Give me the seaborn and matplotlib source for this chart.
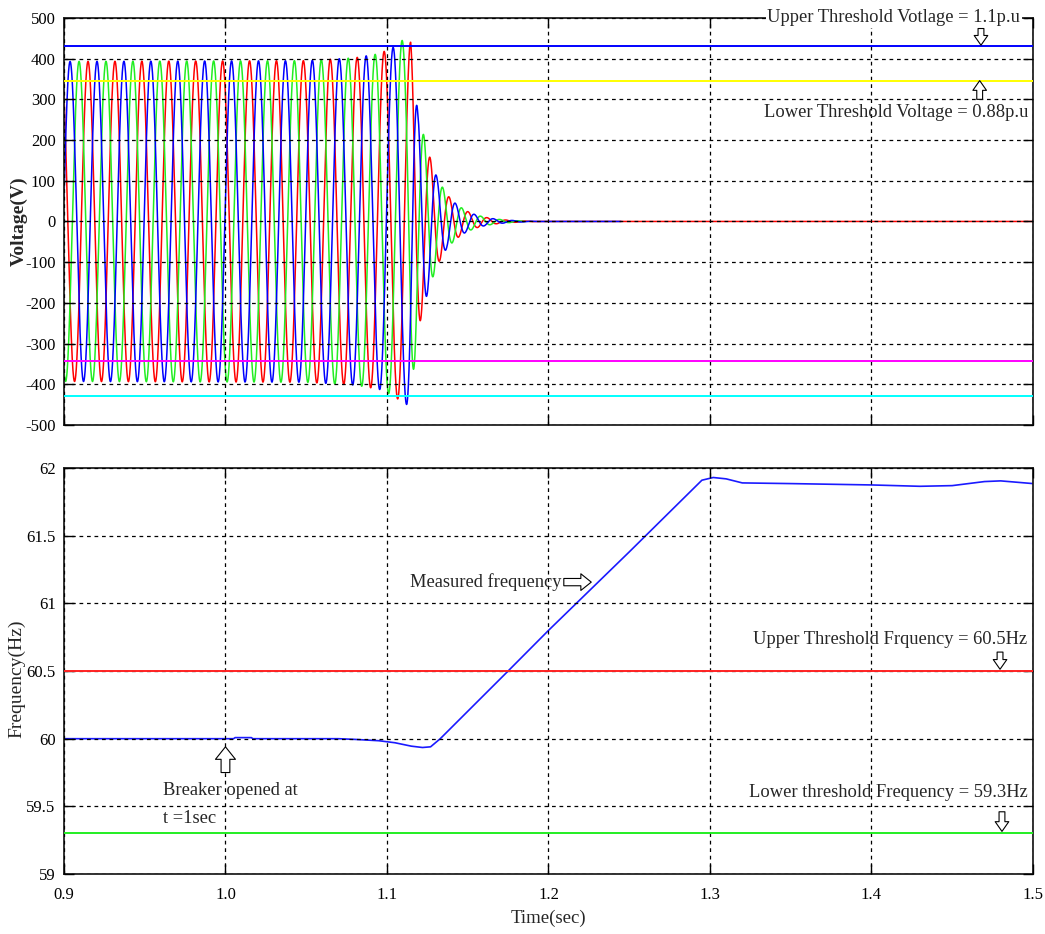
import numpy as np
import pandas as pd
import matplotlib
matplotlib.use("Agg")
import matplotlib.pyplot as plt
import seaborn as sns

# ---- voltage trace ----
# peak amplitude of the three phase voltages over time
env_t = [0.9, 1.05, 1.08, 1.095, 1.104, 1.1095, 1.1124, 1.1147, 1.119, 1.1255,
         1.131, 1.137, 1.143, 1.149, 1.155, 1.161, 1.167, 1.175, 1.185, 1.195]
env_v = [393, 395, 402, 412, 428, 445, 450, 440, 270, 170,
         108, 66, 42, 26, 16, 10, 6, 3, 1, 0]
# oscillation frequency of the voltage waveform
osc_t = [0.9, 1.112, 1.118, 1.5]
osc_f = [60, 60, 85, 85]
red_peak_t = 0.9149          # time of a red phase peak
phase_names = ['red', 'green', 'blue']
phase_lag = [0.0, 2 / 3, 1 / 3]    # lag in cycles
phase_end = [1.5, 1.185, 1.245]   # where each trace stops
phase_colors = {'red': '#FF0000', 'green': '#22EE22', 'blue': '#0000FF'}

v_upper = 430    # 1.1 p.u.
v_lower = 344    # 0.88 p.u.
v_ticks = [500, 400, 300, 200, 100, 0, -100, -200, -300, -400, -500]

# ---- measured frequency ----
freq_t = [0.9, 1.005, 1.006, 1.016, 1.017, 1.07, 1.08, 1.095, 1.105, 1.115,
          1.122, 1.127, 1.133, 1.175, 1.2, 1.25, 1.295, 1.302, 1.31, 1.32,
          1.35, 1.4, 1.43, 1.45, 1.47, 1.48, 1.5]
freq_hz = [60.0, 60.0, 60.008, 60.008, 60.0, 60.0, 59.995, 59.985, 59.97, 59.945,
           59.935, 59.94, 60.0, 60.5, 60.8, 61.38, 61.91, 61.93, 61.92, 61.89,
           61.885, 61.875, 61.865, 61.87, 61.9, 61.905, 61.885]
f_upper = 60.5
f_lower = 59.3
f_ticks = [59, 59.5, 60, 60.5, 61, 61.5, 62]
f_ticklabels = ['59', '59.5', '60', '60.5', '61', '61.5', '62']

t_ticks = [0.9, 1.0, 1.1, 1.2, 1.3, 1.4, 1.5]
t_ticklabels = ['0.9', '1.0', '1.1', '1.2', '1.3', '1.4', '1.5']

sns.set_style("white")
plt.rcParams['font.family'] = ['Liberation Serif', 'DejaVu Sans']
plt.rcParams['axes.unicode_minus'] = False

# build the three phase waveforms
t = np.arange(0.9, 1.5, 2e-5)
amp = np.interp(t, env_t, env_v)
f = np.interp(t, osc_t, osc_f)
cyc = np.concatenate([[0], np.cumsum((f[1:] + f[:-1]) / 2 * np.diff(t))])
cyc = cyc - np.interp(red_peak_t, t, cyc)
frames = []
for name, lag, end in zip(phase_names, phase_lag, phase_end):
    m = t <= end
    frames.append(pd.DataFrame({'t': t[m],
                                'v': amp[m] * np.cos(2 * np.pi * (cyc[m] - lag)),
                                'phase': name}))
volt = pd.concat(frames, ignore_index=True)
freq = pd.DataFrame({'t': freq_t, 'hz': freq_hz})

fig = plt.figure(figsize=(10.45, 9.34), dpi=100)
ax1 = fig.add_axes([0.0612, 0.545, 0.9273, 0.4358])
ax2 = fig.add_axes([0.0612, 0.0642, 0.9273, 0.4347])

grid_kw = dict(color='black', linestyle=(0, (3, 3)), linewidth=0.9)
txt = 13.3


def hollow_arrow(ax, tip, tail, scale=14, hw=0.7, tw=0.3):
    ax.annotate('', xy=tip, xytext=tail, zorder=10,
                arrowprops=dict(arrowstyle=f'simple,head_length=0.5,head_width={hw},tail_width={tw}',
                                fc='white', ec='black', lw=0.8, mutation_scale=scale,
                                shrinkA=0, shrinkB=0))


# top: voltage
sns.lineplot(data=volt, x='t', y='v', hue='phase', hue_order=phase_names,
             palette=phase_colors, estimator=None, legend=False,
             linewidth=1.1, ax=ax1)
ax1.axhline(v_upper, color='#0000FF', lw=1.4, zorder=3)
ax1.axhline(v_lower, color='#FFFF00', lw=1.4, zorder=3)
ax1.axhline(-v_lower, color='#FF00FF', lw=1.4, zorder=3)
ax1.axhline(-v_upper, color='#00FFFF', lw=1.4, zorder=3)
ax1.set_xlim(0.9, 1.5)
ax1.set_ylim(-500, 500)
ax1.set_yticks(v_ticks)
ax1.set_yticklabels([str(v) for v in v_ticks])
ax1.set_xticks(t_ticks)
ax1.set_xticklabels([])
ax1.set_xlabel('')
ax1.set_ylabel('Voltage(V)', fontsize=14, fontweight='bold')
ax1.yaxis.set_label_coords(-0.037, 0.5)

ax1.text(1.492, 500, 'Upper Threshold Votlage = 1.1p.u', fontsize=txt,
         ha='right', va='center', zorder=10, clip_on=False,
         bbox=dict(fc='white', ec='none', pad=1))
hollow_arrow(ax1, (1.4678, 433), (1.4678, 474))
hollow_arrow(ax1, (1.467, 346), (1.467, 300))
ax1.text(1.4969, 268, 'Lower Threshold Voltage = 0.88p.u', fontsize=txt,
         ha='right', va='center', zorder=10)

# bottom: frequency
sns.lineplot(data=freq, x='t', y='hz', color='#1A1AFF', linewidth=1.2,
             estimator=None, ax=ax2)
ax2.axhline(f_upper, color='#FF2222', lw=1.4, zorder=3)
ax2.axhline(f_lower, color='#22EE22', lw=1.4, zorder=3)
ax2.set_xlim(0.9, 1.5)
ax2.set_ylim(59, 62)
ax2.set_yticks(f_ticks)
ax2.set_yticklabels(f_ticklabels)
ax2.set_xticks(t_ticks)
ax2.set_xticklabels(t_ticklabels)
ax2.set_xlabel('Time(sec)', fontsize=13.5, labelpad=5)
ax2.set_ylabel('Frequency(Hz)', fontsize=14)
ax2.yaxis.set_label_coords(-0.040, 0.48)

ax2.text(1.1142, 61.157, 'Measured frequency', fontsize=txt, ha='left', va='center')
hollow_arrow(ax2, (1.2265, 61.157), (1.2095, 61.157), scale=15, hw=0.8, tw=0.35)
ax2.text(1.4963, 60.73, 'Upper Threshold Frquency = 60.5Hz', fontsize=txt,
         ha='right', va='center')
hollow_arrow(ax2, (1.4796, 60.513), (1.4796, 60.64))
ax2.text(1.4969, 59.605, 'Lower threshold Frequency = 59.3Hz', fontsize=txt,
         ha='right', va='center')
hollow_arrow(ax2, (1.4808, 59.315), (1.4808, 59.46))
hollow_arrow(ax2, (1.0, 59.94), (1.0, 59.75), scale=18, hw=0.8, tw=0.35)
ax2.text(0.9613, 59.62, 'Breaker opened at', fontsize=txt, ha='left', va='center')
ax2.text(0.9613, 59.41, 't =1sec', fontsize=txt, ha='left', va='center')

for ax in (ax1, ax2):
    ax.grid(True, **grid_kw)
    ax.set_axisbelow(False)
    ax.tick_params(direction='in', length=7, width=1, labelsize=12, pad=6,
                   left=True, right=True, top=True, bottom=True, colors='black')
    for s in ax.spines.values():
        s.set_color('#222222')
        s.set_linewidth(1.3)
ax2.tick_params(axis='x', pad=9)

fig.savefig('out.png', dpi=100)
